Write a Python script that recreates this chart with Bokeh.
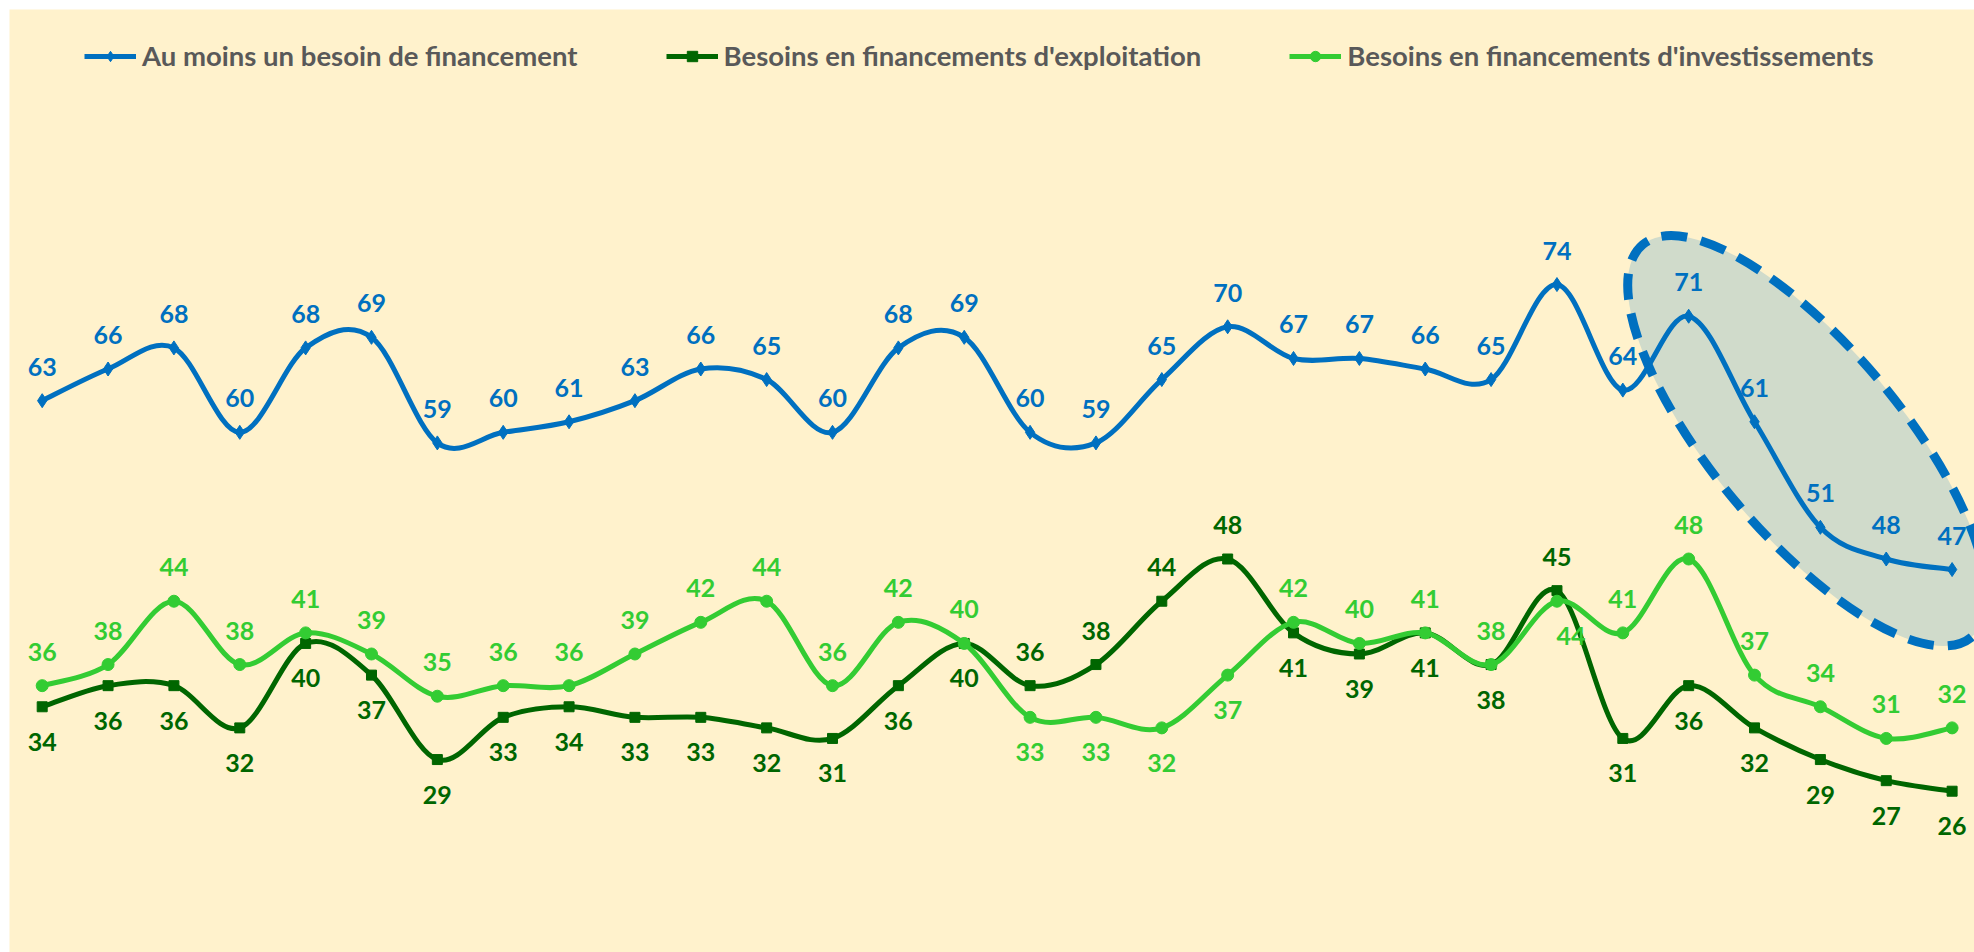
from bokeh.plotting import figure
from bokeh.models import ColumnDataSource, Range1d, Legend, LegendItem
from bokeh.core.properties import value
from bokeh.embed import file_html
from bokeh.resources import INLINE

# ---------------- data ----------------
periods = list(range(30))
au_moins_un = [63, 66, 68, 60, 68, 69, 59, 60, 61, 63, 66, 65, 60, 68, 69,
               60, 59, 65, 70, 67, 67, 66, 65, 74, 64, 71, 61, 51, 48, 47]
exploitation = [34, 36, 36, 32, 40, 37, 29, 33, 34, 33, 33, 32, 31, 36, 40,
                36, 38, 44, 48, 41, 39, 41, 38, 45, 31, 36, 32, 29, 27, 26]
investissements = [36, 38, 44, 38, 41, 39, 35, 36, 36, 39, 42, 44, 36, 42, 40,
                   33, 33, 32, 37, 42, 40, 41, 38, 44, 41, 48, 37, 34, 31, 32]
series_names = ["Au moins un besoin de financement",
                "Besoins en financements d'exploitation",
                "Besoins en financements d'investissements"]

# label side: 1 = above, -1 = below
exploitation_side = [-1] * 30
investissements_side = [1] * 30
for k in (15, 16, 17, 18, 23):
    exploitation_side[k] = 1
    investissements_side[k] = -1
au_moins_side = [1] * 30

BLUE = "#0070C0"
DGREEN = "#006600"
LGREEN = "#33CC33"
BG = "#FFF2CC"

p = figure(width=1974, height=952, output_backend="svg", toolbar_location=None,
           x_range=Range1d(-0.4965, 29.34), y_range=Range1d(10.72, 100.06),
           x_axis_location=None, y_axis_location=None,
           min_border_left=9, min_border_top=9, min_border_right=0,
           min_border_bottom=0)
p.background_fill_color = BG
p.border_fill_color = "white"
p.outline_line_color = None
p.grid.visible = False

# highlight ellipse around the last points
p.ellipse(x=[26.80], y=[59.2], width=512, height=188, angle=-0.873,
          width_units="screen", height_units="screen",
          fill_color="#D0DBCB", line_color=BLUE, line_width=9, line_dash="26 14")


def bezier_source(xs, ys):
    n = len(ys)
    d = dict(x0=[], y0=[], x1=[], y1=[], cx0=[], cy0=[], cx1=[], cy1=[])
    for i in range(n - 1):
        a = i - 1 if i > 0 else i
        b = i + 2 if i + 2 < n else i + 1
        d["x0"].append(xs[i]); d["y0"].append(ys[i])
        d["x1"].append(xs[i + 1]); d["y1"].append(ys[i + 1])
        d["cx0"].append(xs[i] + (xs[i + 1] - xs[a]) / 6)
        d["cy0"].append(ys[i] + (ys[i + 1] - ys[a]) / 6)
        d["cx1"].append(xs[i + 1] - (xs[b] - xs[i]) / 6)
        d["cy1"].append(ys[i + 1] - (ys[b] - ys[i]) / 6)
    return ColumnDataSource(d)


items = []
specs = [
    (au_moins_un, au_moins_side, BLUE, "diamond", 14, 5),
    (exploitation, exploitation_side, DGREEN, "square", 10, 5),
    (investissements, investissements_side, LGREEN, "circle", 12, 5),
]
label_sources = []
for (ys, side, col, mk, ms, lw), name in zip(specs, series_names):
    p.bezier(x0="x0", y0="y0", x1="x1", y1="y1", cx0="cx0", cy0="cy0",
             cx1="cx1", cy1="cy1", source=bezier_source(periods, ys),
             line_color=col, line_width=lw, line_cap="round")
    sc = p.scatter(x=periods, y=ys, marker=mk, size=ms, fill_color=col,
                   line_color=col)
    # off-screen line used only to draw the legend line sample
    leg_line = p.line(x=[-10, -9], y=[0, 0], line_color=col, line_width=lw)
    items.append(LegendItem(label=name, renderers=[leg_line, sc]))
    xoff = [0] * len(ys)
    src = ColumnDataSource(dict(x=periods, y=ys, t=[str(v) for v in ys],
                                off=[-34 if s > 0 else 35 for s in side],
                                xoff=xoff))
    label_sources.append((src, col))

# small horizontal nudge of one crowded label (light green, index 23)
label_sources[2][0].data["xoff"][23] = 14

for src, col in label_sources:
    p.text(x="x", y="y", text="t", source=src, y_offset="off", x_offset="xoff",
           text_align="center", text_baseline="middle",
           text_font=value("Lato"), text_font_style="bold",
           text_font_size="25px", text_color=col)

legend = Legend(items=items, orientation="horizontal", location=(75, 880),
                glyph_width=52, glyph_height=26, label_standoff=6, spacing=88,
                padding=0, margin=0, border_line_alpha=0,
                background_fill_alpha=0,
                label_text_font="Lato", label_text_font_style="bold",
                label_text_font_size="27.5px", label_text_color="#595959")
p.add_layout(legend, "center")

open("out.html", "w").write(file_html(p, INLINE))
